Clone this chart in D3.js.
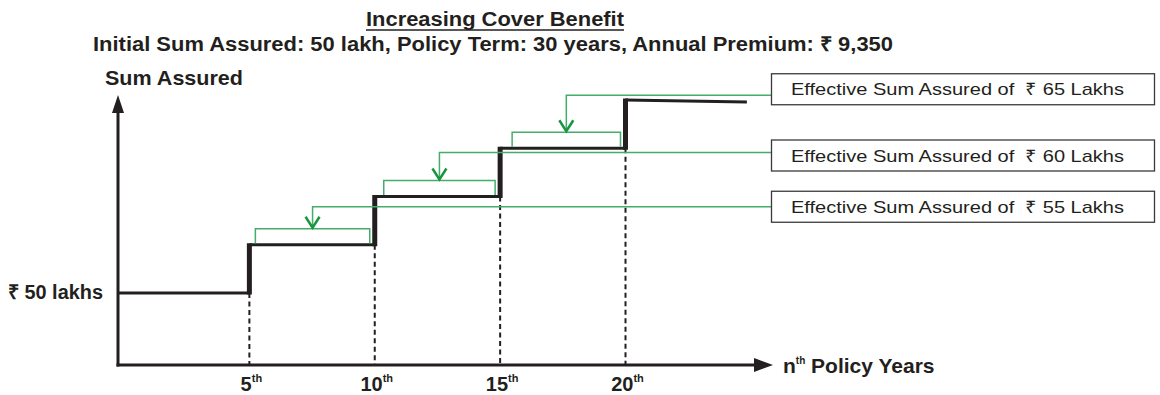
<!DOCTYPE html>
<html>
<head>
<meta charset="utf-8">
<script src="https://cdn.jsdelivr.net/npm/d3@7"></script>
<style>
  body { margin: 0; background: #fff; }
  svg { display: block; }
  text { font-family: "Liberation Sans", Arial, Helvetica, sans-serif; fill: #231f20; white-space: pre; }
  .bold { font-weight: bold; }
</style>
</head>
<body>
<svg id="chart" width="1160" height="395"></svg>
<script>
'use strict';

// step boundaries (policy years) and the sum assured (lakhs) held over each step
var stepYears = [0, 5, 10, 15, 20, 25];
var sumAssured = [50, 55, 60, 65, 70];
var tickYears = [5, 10, 15, 20];
var calloutValues = [55, 60, 65];
var calloutText = ['Effective Sum Assured of\u00a0\u00a0₹ 55 Lakhs',
                   'Effective Sum Assured of\u00a0\u00a0₹ 60 Lakhs',
                   'Effective Sum Assured of\u00a0\u00a0₹ 65 Lakhs'];
var baseLabel = '₹ 50 lakhs';
var title = 'Increasing Cover Benefit';
var subtitle = 'Initial Sum Assured: 50 lakh, Policy Term: 30 years, Annual Premium: ₹ 9,350';

// layout
var ox = 118, oy = 365;
var calloutLift = [38, 44, 53];      // px from the step up to the connector line
var boxShift = [0, 3, -6];           // box centre relative to connector line
var boxX = 771, boxW = 383, boxH = 31;
var lineGreen = '#45ad6c', arrowGreen = '#17953f', ink = '#231f20';

var svg = d3.select('#chart');
var x = d3.scaleLinear().domain([0, 20]).range([124, 625.5]);
var y = d3.scaleLinear().domain([50, 70]).range([293, 100]);

// titles
svg.append('text').attr('class', 'bold').attr('x', 495).attr('y', 26)
  .attr('text-anchor', 'middle').style('font-size', '20px')
  .attr('textLength', 258).attr('lengthAdjust', 'spacingAndGlyphs').text(title);
svg.append('line').attr('x1', 366).attr('x2', 624).attr('y1', 30).attr('y2', 30)
  .attr('stroke', ink).attr('stroke-width', 1.5);
svg.append('text').attr('class', 'bold').attr('x', 493).attr('y', 51)
  .attr('text-anchor', 'middle').style('font-size', '20px')
  .attr('textLength', 800).attr('lengthAdjust', 'spacingAndGlyphs').text(subtitle);

// dashed guides down to the axis
var dash = svg.append('g');
tickYears.forEach(function(t) {
  var i = stepYears.indexOf(t);
  dash.append('line').attr('x1', x(t)).attr('x2', x(t))
    .attr('y1', y(sumAssured[i - 1])).attr('y2', oy)
    .attr('stroke', ink).attr('stroke-width', 2).attr('stroke-dasharray', '5,3.5');
});

// axes with arrow heads
var axes = svg.append('g');
axes.append('line').attr('x1', ox).attr('x2', ox).attr('y1', 110).attr('y2', oy + 1.5)
  .attr('stroke', ink).attr('stroke-width', 3);
axes.append('line').attr('x1', ox - 1.5).attr('x2', 758).attr('y1', oy).attr('y2', oy)
  .attr('stroke', ink).attr('stroke-width', 3);
axes.append('path').attr('d', 'M' + ox + ',95L' + (ox - 6) + ',113L' + (ox + 6) + ',113Z')
  .attr('fill', ink);
axes.append('path').attr('d', 'M773,' + oy + 'L754,' + (oy - 7) + 'L754,' + (oy + 7) + 'Z')
  .attr('fill', ink);

// step line
var steps = svg.append('g');
sumAssured.forEach(function(v, i) {
  var last = i === sumAssured.length - 1;
  var xa = i === 0 ? ox : x(stepYears[i]);
  steps.append('line').attr('x1', xa).attr('x2', x(stepYears[i + 1]) - (last ? 4 : 0))
    .attr('y1', y(v)).attr('y2', y(v) + (last ? 2 : 0))
    .attr('stroke', ink).attr('stroke-width', 3);
  if (i > 0) {
    steps.append('line').attr('x1', x(stepYears[i])).attr('x2', x(stepYears[i]))
      .attr('y1', y(sumAssured[i - 1]) + 1.5).attr('y2', y(v) - 1.5)
      .attr('stroke', ink).attr('stroke-width', 5);
  }
});

// callouts
var call = svg.append('g');
calloutValues.forEach(function(v, k) {
  var i = sumAssured.indexOf(v);
  var x0 = x(stepYears[i]) + 6 + 3 * k, x1 = x(stepYears[i + 1]) - 5;
  var top = y(v) - 16, mid = (x0 + x1) / 2;
  var ly = y(v) - calloutLift[k];
  call.append('path')
    .attr('d', 'M' + x0 + ',' + (y(v) - 1.5) + 'V' + top + 'H' + x1 + 'V' + (y(v) - 1.5))
    .attr('fill', 'none').attr('stroke', lineGreen).attr('stroke-width', 1.5);
  call.append('path')
    .attr('d', 'M' + boxX + ',' + ly + 'H' + mid + 'V' + (top - 1))
    .attr('fill', 'none').attr('stroke', lineGreen).attr('stroke-width', 1.5);
  call.append('path')
    .attr('d', 'M' + (mid - 7) + ',' + (top - 12) + 'L' + mid + ',' + (top - 1) +
               'L' + (mid + 7) + ',' + (top - 12))
    .attr('fill', 'none').attr('stroke', arrowGreen).attr('stroke-width', 2.5);
  var by = ly + boxShift[k] - boxH / 2;
  call.append('rect').attr('x', boxX + 0.5).attr('y', by).attr('width', boxW).attr('height', boxH)
    .attr('fill', '#fff').attr('stroke', '#3a3a3a').attr('stroke-width', 1.3);
  call.append('text').attr('x', 791).attr('y', by + 21.5).style('font-size', '17px')
    .attr('textLength', 333).attr('lengthAdjust', 'spacingAndGlyphs')
    .text(calloutText[k]);
});

// axis labels
svg.append('text').attr('class', 'bold').attr('x', 105).attr('y', 85)
  .style('font-size', '21px').attr('textLength', 138).attr('lengthAdjust', 'spacingAndGlyphs')
  .text('Sum Assured');
svg.append('text').attr('class', 'bold').attr('x', 8).attr('y', y(50) + 6)
  .style('font-size', '20px').attr('textLength', 95).attr('lengthAdjust', 'spacingAndGlyphs')
  .text(baseLabel);

var xl = svg.append('text').attr('class', 'bold').attr('x', 783).attr('y', 373)
  .style('font-size', '21px');
xl.append('tspan').text('n');
xl.append('tspan').attr('dy', -9).style('font-size', '10px').text('th');
xl.append('tspan').attr('dy', 9).text(' Policy Years');

tickYears.forEach(function(t) {
  var tl = svg.append('text').attr('class', 'bold').attr('x', x(t) + 2).attr('y', 391)
    .attr('text-anchor', 'middle').style('font-size', '20px');
  tl.append('tspan').text(t);
  tl.append('tspan').attr('dy', -9).style('font-size', '11px').text('th');
});
</script>
</body>
</html>
